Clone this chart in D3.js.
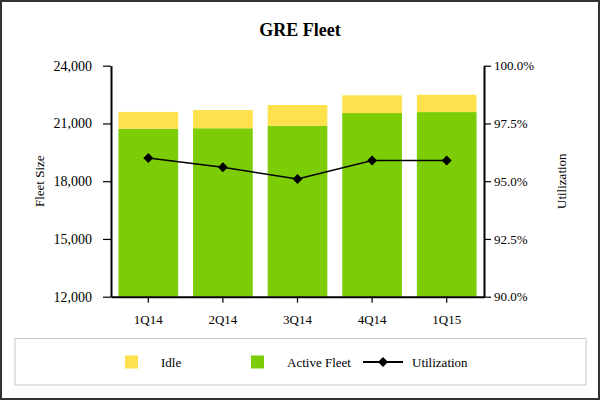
<!DOCTYPE html>
<html>
<head>
<meta charset="utf-8">
<script src="https://cdn.jsdelivr.net/npm/d3@7"></script>
<style>
  html, body { margin: 0; padding: 0; background: #fff; }
  svg { display: block; font-family: "Liberation Serif", "Times New Roman", serif; }
</style>
</head>
<body>
<script>
const categories = ["1Q14", "2Q14", "3Q14", "4Q14", "1Q15"];
const activeFleet = [20730, 20750, 20880, 21540, 21590];
const idle = [870, 950, 1080, 920, 900];
const utilization = [96.0, 95.6, 95.1, 95.9, 95.9];
const leftTicks = [12000, 15000, 18000, 21000, 24000];
const rightTicks = [90, 92.5, 95, 97.5, 100];

(function () {
const W = 600, H = 400;
const svg = d3.select("body").append("svg").attr("width", W).attr("height", H);

// outer frame
svg.append("rect").attr("x", 1).attr("y", 1).attr("width", W - 2).attr("height", H - 2)
  .attr("fill", "#fff").attr("stroke", "#333").attr("stroke-width", 2);

const pLeft = 111, pRight = 484, pTop = 65.7, pBottom = 296.7;

const x = d3.scaleBand().domain(categories).range([pLeft, pRight]).paddingInner(0.2).paddingOuter(0.1);
const y = d3.scaleLinear().domain([12000, 24000]).range([pBottom, pTop]);
const y2 = d3.scaleLinear().domain([90, 100]).range([pBottom, pTop]);

svg.append("text").attr("x", 300).attr("y", 36).attr("text-anchor", "middle")
  .attr("font-size", 18).attr("font-weight", "bold").text("GRE Fleet");

const data = categories.map((c, i) => ({ c, a: activeFleet[i], idle: idle[i], u: utilization[i] }));

// bars
svg.append("g").selectAll("rect").data(data).join("rect")
  .attr("x", d => x(d.c)).attr("width", x.bandwidth())
  .attr("y", d => y(d.a)).attr("height", d => y(12000) - y(d.a))
  .attr("fill", "#7ccc06");
svg.append("g").selectAll("rect").data(data).join("rect")
  .attr("x", d => x(d.c)).attr("width", x.bandwidth())
  .attr("y", d => y(d.a + d.idle)).attr("height", d => y(d.a) - y(d.a + d.idle))
  .attr("fill", "#ffe14d");

// axes
const fmt = d3.format(",");
const gl = svg.append("g").attr("transform", `translate(${pLeft},0)`)
  .call(d3.axisLeft(y).tickValues(leftTicks).tickFormat(fmt).tickSize(8).tickSizeOuter(0).tickPadding(11));
const gr = svg.append("g").attr("transform", `translate(${pRight},0)`)
  .call(d3.axisRight(y2).tickValues(rightTicks).tickFormat(d => d.toFixed(1) + "%").tickSize(7).tickSizeOuter(0).tickPadding(3));
const gb = svg.append("g").attr("transform", `translate(0,${pBottom})`)
  .call(d3.axisBottom(x).tickSize(6).tickSizeOuter(0).tickPadding(12));
[gl, gr, gb].forEach(g => {
  g.selectAll("text").attr("font-family", "Liberation Serif, Times New Roman, serif").attr("font-size", 13).attr("fill", "#000");
  g.selectAll("line").attr("stroke", "#000").attr("stroke-width", 1.2);
  g.select(".domain").attr("stroke", "#000").attr("stroke-width", 2);
});
gl.selectAll("text").attr("font-size", 14);

svg.append("text").attr("transform", `translate(44,${(pTop + pBottom) / 2}) rotate(-90)`)
  .attr("text-anchor", "middle").attr("font-size", 13).text("Fleet Size");
svg.append("text").attr("transform", `translate(566,${(pTop + pBottom) / 2}) rotate(-90)`)
  .attr("text-anchor", "middle").attr("font-size", 13).text("Utilization");

// utilization line
const line = d3.line().x(d => x(d.c) + x.bandwidth() / 2).y(d => y2(d.u));
svg.append("path").datum(data).attr("d", line).attr("fill", "none").attr("stroke", "#000").attr("stroke-width", 1.5);
svg.append("g").selectAll("path").data(data).join("path")
  .attr("d", d3.symbol().type(d3.symbolSquare).size(50))
  .attr("transform", d => `translate(${x(d.c) + x.bandwidth() / 2},${y2(d.u)}) rotate(45)`)
  .attr("fill", "#000");

// legend
svg.append("rect").attr("x", 15).attr("y", 338.5).attr("width", 571).attr("height", 46.5)
  .attr("fill", "#fff").attr("stroke", "#c8c8c8").attr("stroke-width", 1);
const ly = 362;
svg.append("rect").attr("x", 125).attr("y", ly - 6.5).attr("width", 13).attr("height", 13).attr("fill", "#ffe14d");
svg.append("text").attr("x", 161).attr("y", ly + 4.5).attr("font-size", 13).text("Idle");
svg.append("rect").attr("x", 251).attr("y", ly - 6.5).attr("width", 13).attr("height", 13).attr("fill", "#7ccc06");
svg.append("text").attr("x", 287).attr("y", ly + 4.5).attr("font-size", 13).text("Active Fleet");
svg.append("line").attr("x1", 363).attr("x2", 403).attr("y1", ly).attr("y2", ly).attr("stroke", "#000").attr("stroke-width", 2);
svg.append("path").attr("d", d3.symbol().type(d3.symbolSquare).size(50)())
  .attr("transform", `translate(383,${ly}) rotate(45)`).attr("fill", "#000");
svg.append("text").attr("x", 412).attr("y", ly + 4.5).attr("font-size", 13).text("Utilization");
})();
</script>
</body>
</html>
